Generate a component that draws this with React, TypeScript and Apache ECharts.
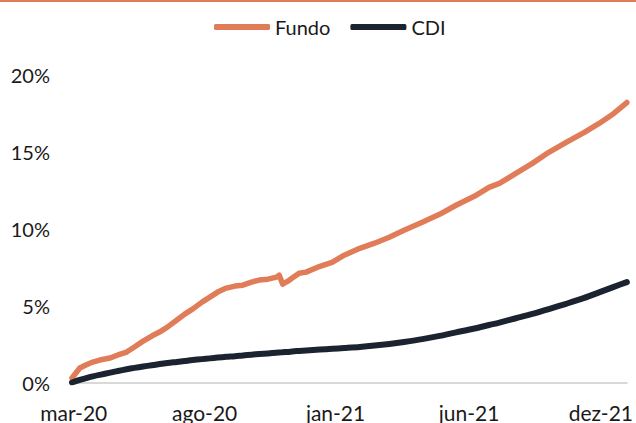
import React, { useEffect, useRef } from "react";
import * as echarts from "echarts";

const dates = [
  "2020-03-31", "2020-04-09", "2020-04-16", "2020-04-24", "2020-05-02", "2020-05-14", "2020-05-23", "2020-06-02", "2020-06-11", "2020-06-21",
  "2020-07-01", "2020-07-10", "2020-07-19", "2020-07-30", "2020-08-08", "2020-08-17", "2020-08-28", "2020-09-06", "2020-09-15", "2020-09-25",
  "2020-10-05", "2020-10-14", "2020-10-24", "2020-11-02", "2020-11-12", "2020-11-22", "2020-11-25", "2020-11-29", "2020-12-05", "2020-12-10",
  "2020-12-18", "2020-12-26", "2021-01-11", "2021-01-25", "2021-02-08", "2021-02-26", "2021-03-15", "2021-04-01", "2021-04-18", "2021-05-09",
  "2021-05-29", "2021-06-17", "2021-07-08", "2021-07-25", "2021-08-06", "2021-08-25", "2021-09-13", "2021-10-02", "2021-10-22", "2021-11-12",
  "2021-11-29", "2021-12-16", "2021-12-31",
];

const fundo = [
  0.29, 0.94, 1.14, 1.33, 1.46, 1.59, 1.79, 1.98, 2.31, 2.69,
  3.02, 3.28, 3.6, 4.06, 4.45, 4.77, 5.23, 5.55, 5.88, 6.14,
  6.27, 6.33, 6.53, 6.66, 6.72, 6.85, 6.98, 6.4, 6.59, 6.79,
  7.11, 7.18, 7.56, 7.82, 8.28, 8.73, 9.06, 9.45, 9.9, 10.42,
  10.94, 11.53, 12.11, 12.69, 12.95, 13.6, 14.25, 14.97, 15.62, 16.27,
  16.85, 17.5, 18.21,
];

const cdi = [
  0.0, 0.17, 0.28, 0.4, 0.5, 0.64, 0.75, 0.86, 0.95, 1.04,
  1.12, 1.2, 1.27, 1.34, 1.4, 1.46, 1.52, 1.57, 1.62, 1.67,
  1.71, 1.76, 1.81, 1.85, 1.89, 1.94, 1.95, 1.97, 1.99, 2.02,
  2.05, 2.08, 2.14, 2.19, 2.24, 2.31, 2.4, 2.51, 2.64, 2.82,
  3.03, 3.26, 3.51, 3.74, 3.9, 4.18, 4.46, 4.78, 5.12, 5.5,
  5.86, 6.22, 6.53,
];

const xTickDates = ["2020-04-02", "2020-08-31", "2021-01-29", "2021-07-02", "2021-12-01"];
const xTickLabels = ["mar-20", "ago-20", "jan-21", "jun-21", "dez-21"];
const yTicks = [0, 5, 10, 15, 20];

const ORANGE = "#E07C57";
const DARK = "#1C2330";
const TEXT = "#1a1a1a";
const FONT = "Lato, 'Open Sans', sans-serif";

export default function App() {
  const ref = useRef<HTMLDivElement>(null);
  useEffect(() => {
    if (!ref.current) return;
    const chart = echarts.init(ref.current, undefined, { renderer: "svg" });
    const ts = dates.map((d) => Date.parse(d));
    const tickTs = xTickDates.map((d) => Date.parse(d));
    chart.setOption({
      animation: false,
      textStyle: { fontFamily: FONT },
      graphic: [
        { type: "rect", left: 0, top: 0, shape: { x: 0, y: 0, width: 636, height: 2 }, style: { fill: ORANGE } },
      ],
      legend: {
        top: 12,
        left: 209,
        itemWidth: 56,
        itemHeight: 6,
        itemGap: 20,
        icon: "roundRect",
        textStyle: { fontSize: 20, color: TEXT, fontFamily: FONT },
        data: [
          { name: "Fundo", itemStyle: { color: ORANGE } },
          { name: "CDI", itemStyle: { color: DARK } },
        ],
      },
      grid: { left: 72, right: 8, top: 75, bottom: 40.5 },
      xAxis: {
        type: "value",
        min: ts[0],
        max: ts[ts.length - 1],
        splitLine: { show: false },
        axisLine: { show: true, lineStyle: { color: "#D9D9D9", width: 2 } },
        axisTick: { show: false },
        axisLabel: {
          customValues: tickTs,
          margin: 19,
          fontSize: 21,
          color: TEXT,
          fontFamily: FONT,
          formatter: (v: number) => {
            const i = tickTs.indexOf(v);
            return i >= 0 ? xTickLabels[i] : "";
          },
        },
      },
      yAxis: {
        type: "value",
        min: yTicks[0],
        max: yTicks[yTicks.length - 1],
        interval: 5,
        splitLine: { show: false },
        axisLine: { show: false },
        axisTick: { show: false },
        axisLabel: {
          margin: 22,
          fontSize: 20,
          color: TEXT,
          fontFamily: FONT,
          formatter: (v: number) => `${v}%`,
        },
      },
      series: [
        {
          name: "Fundo",
          type: "line",
          showSymbol: false,
          symbol: "none",
          data: ts.map((t, i) => [t, fundo[i]]),
          lineStyle: { color: ORANGE, width: 5.5, cap: "round", join: "round" },
          itemStyle: { color: ORANGE },
        },
        {
          name: "CDI",
          type: "line",
          showSymbol: false,
          symbol: "none",
          smooth: 0.3,
          data: ts.map((t, i) => [t, cdi[i]]),
          lineStyle: { color: DARK, width: 6, cap: "round", join: "round" },
          itemStyle: { color: DARK },
        },
      ],
    });
    return () => chart.dispose();
  }, []);
  return (
    <div
      ref={ref}
      style={{ position: "fixed", left: 0, top: 0, width: 636, height: 423, background: "#fff" }}
    />
  );
}
